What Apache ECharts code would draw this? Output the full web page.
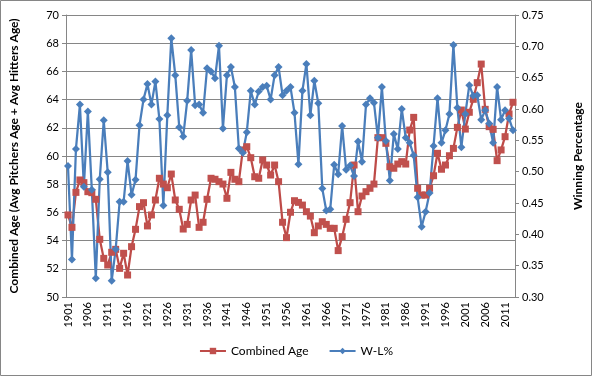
<!DOCTYPE html>
<html>
<head>
<meta charset="utf-8">
<script src="https://cdn.jsdelivr.net/npm/echarts@6/dist/echarts.min.js"></script>
<style>
html, body { margin: 0; padding: 0; background: #fff; }
#chart { width: 592px; height: 376px; }
</style>
</head>
<body>
<div id="chart"></div>
<script>
// seasons 1901 .. 2013
var years = [];
for (var y = 1901; y <= 2013; y++) years.push(String(y));

// Combined age (avg pitchers age + avg hitters age)
var combinedAge = [
    55.82, 54.94, 57.42, 58.30, 58.11, 57.47, 57.40, 56.93, 54.09, 52.74, 52.27, 53.17, 53.38, 52.03, 53.10, 51.56,
    53.57, 54.80, 56.41, 56.69, 55.04, 55.82, 56.88, 58.42, 58.01, 57.75, 58.72, 56.88, 56.22, 54.82, 55.15, 56.88,
    57.23, 54.94, 55.30, 56.93, 58.42, 58.35, 58.18, 58.01, 57.00, 58.84, 58.35, 58.18, 60.43, 60.66, 59.88, 58.53,
    58.42, 59.72, 59.36, 58.65, 59.36, 58.18, 55.30, 54.21, 56.01, 56.83, 56.71, 56.52, 56.05, 55.74, 54.56, 55.04,
    55.34, 55.15, 54.87, 54.87, 53.29, 54.28, 55.51, 56.69, 59.36, 56.05, 57.16, 57.47, 57.71, 58.01, 61.30, 61.30,
    60.90, 59.24, 59.13, 59.43, 59.60, 59.43, 61.84, 62.74, 57.71, 57.23, 57.23, 57.71, 58.60, 60.19, 59.06, 59.36,
    60.02, 60.54, 62.03, 63.26, 61.91, 63.10, 64.02, 65.20, 66.52, 63.31, 62.08, 61.89, 59.67, 60.43, 61.37, 62.98, 63.81
];

// winning percentage
var winPct = [
    0.509, 0.360, 0.536, 0.607, 0.476, 0.596, 0.471, 0.330, 0.488, 0.582, 0.499, 0.326, 0.376, 0.452, 0.452, 0.517,
    0.463, 0.487, 0.574, 0.615, 0.640, 0.607, 0.644, 0.584, 0.446, 0.590, 0.713, 0.654, 0.571, 0.556, 0.613, 0.694,
    0.606, 0.607, 0.594, 0.665, 0.660, 0.649, 0.701, 0.569, 0.654, 0.667, 0.635, 0.537, 0.530, 0.563, 0.629, 0.607,
    0.628, 0.635, 0.637, 0.615, 0.654, 0.667, 0.622, 0.629, 0.635, 0.594, 0.512, 0.629, 0.672, 0.590, 0.645, 0.609,
    0.473, 0.438, 0.440, 0.511, 0.496, 0.573, 0.503, 0.510, 0.493, 0.548, 0.516, 0.607, 0.617, 0.610, 0.554, 0.635,
    0.549, 0.486, 0.560, 0.536, 0.600, 0.554, 0.546, 0.526, 0.459, 0.412, 0.436, 0.466, 0.541, 0.617, 0.546, 0.566,
    0.592, 0.702, 0.602, 0.539, 0.592, 0.638, 0.621, 0.622, 0.583, 0.598, 0.577, 0.546, 0.635, 0.583, 0.598, 0.585, 0.566
];

var FONT = 'Lato, "Open Sans", sans-serif';
var GRAY = '#868686';

var chart = echarts.init(document.getElementById('chart'));
chart.setOption({
    animation: false,
    textStyle: { fontFamily: FONT },
    graphic: [{
        type: 'rect',
        shape: { x: 0.5, y: 0.5, width: 591, height: 375 },
        style: { fill: 'none', stroke: GRAY, lineWidth: 1 },
        silent: true
    }],
    grid: { left: 64, right: 74, top: 15, bottom: 79 },
    legend: {
        bottom: 14,
        left: 'center',
        itemWidth: 26,
        itemHeight: 8,
        itemGap: 20,
        textStyle: { fontFamily: FONT, fontSize: 12, color: '#000' },
        data: ['Combined Age', 'W-L%']
    },
    xAxis: {
        type: 'category',
        data: years,
        boundaryGap: true,
        axisLine: { lineStyle: { color: GRAY } },
        axisTick: { interval: 0, length: 4, lineStyle: { color: GRAY } },
        axisLabel: { interval: 4, rotate: 90, fontSize: 11, color: '#000', margin: 5, fontFamily: FONT },
        splitLine: { show: false }
    },
    yAxis: [{
        type: 'value',
        min: 50, max: 70, interval: 2,
        name: 'Combined Age (Avg Pitchers Age + Avg Hitters Age)',
        nameLocation: 'middle',
        nameRotate: 90,
        nameGap: 46,
        nameTextStyle: { fontWeight: 'bold', fontSize: 12, color: '#000', fontFamily: FONT },
        axisLine: { show: true, lineStyle: { color: GRAY } },
        axisTick: { show: true, length: 4, lineStyle: { color: GRAY } },
        axisLabel: { fontSize: 11, color: '#000', margin: 7, fontFamily: FONT },
        splitLine: { show: true, lineStyle: { color: GRAY, width: 1 } }
    }, {
        type: 'value',
        min: 0.30, max: 0.75, interval: 0.05,
        position: 'right',
        name: 'Winning Percentage',
        nameLocation: 'middle',
        nameRotate: 90,
        nameGap: 57,
        nameTextStyle: { fontWeight: 'bold', fontSize: 12, color: '#000', fontFamily: FONT },
        axisLine: { show: true, lineStyle: { color: GRAY } },
        axisTick: { show: true, length: 4, lineStyle: { color: GRAY } },
        axisLabel: {
            fontSize: 11, color: '#000', margin: 7, fontFamily: FONT,
            formatter: function (v) { return v.toFixed(2); }
        },
        splitLine: { show: false }
    }],
    series: [{
        name: 'Combined Age',
        type: 'line',
        yAxisIndex: 0,
        data: combinedAge,
        symbol: 'rect',
        symbolSize: 7,
        showAllSymbol: true,
        itemStyle: { color: '#C0504D' },
        lineStyle: { color: '#BE4B48', width: 2.25 }
    }, {
        name: 'W-L%',
        type: 'line',
        yAxisIndex: 1,
        data: winPct,
        symbol: 'diamond',
        symbolSize: 8,
        showAllSymbol: true,
        itemStyle: { color: '#4A7EBB' },
        lineStyle: { color: '#4A7EBB', width: 2.25 }
    }]
});
</script>
</body>
</html>
